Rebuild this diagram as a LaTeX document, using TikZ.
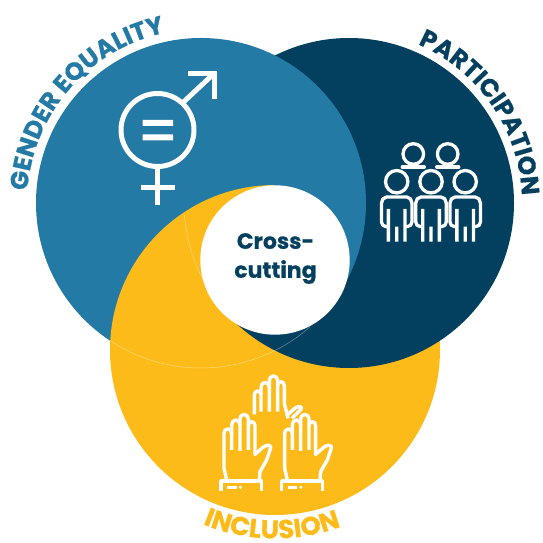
\documentclass[tikz,border=0pt]{standalone}
\usepackage{fontspec}
\setmainfont{Poppins}
\newfontfamily\labfont{Poppins}[UprightFont=* Bold,FakeBold=0.5]
\usetikzlibrary{decorations.text}
\definecolor{gblue}{HTML}{237AA5}
\definecolor{gnavy}{HTML}{03405F}
\definecolor{gyellow}{HTML}{FDBB1A}
\tikzset{
  whiteicon/.style={draw=white,line width=#1,fill=none,line join=round},
  whiteicon/.default=3.4,
  faint/.style={draw=white,draw opacity=.4,line width=.5},
  arctext/.style n args={3}{decorate,decoration={text along path,text align=center,
    text={|\fontsize{#2}{#2}\labfont\color{#1}|#3}}},
}
\def\bluec{(201,340) circle (165)}
\def\navyc{(349,340) circle (165)}
\def\yellc{(275,193) circle (165)}
\begin{document}
\begin{tikzpicture}[x=1pt,y=1pt]
\useasboundingbox (0,0) rectangle (543,543);
% discs
\fill[gblue] \bluec;
\fill[gyellow] \yellc;
% navy: everything right of the centre, and the part under the white disc
\begin{scope}
  \clip (275,0) rectangle (543,543) (200,0) rectangle (275.5,243);
  \fill[gnavy] \navyc;
\end{scope}
% blue over navy in the right-hand sliver and the top lens
\begin{scope}
  \clip (274.5,243) rectangle (543,543);
  \fill[gblue] \bluec;
\end{scope}
% faint seams
\draw[faint] (201,340) ++(236.4:165) arc[start angle=236.4,end angle=311.5,radius=165];
\draw[faint] (349,340) ++(184.2:165) arc[start angle=184.2,end angle=207.8,radius=165];
% centre
\fill[white] (275,283) circle (74.7);
\node[font=\fontsize{22}{29}\labfont,text=gnavy,align=center,inner sep=0] (centre) at (275.5,284.5) {Cross-\\cutting};
% curved labels
\path[arctext={gblue}{25}{GENDER EQUALITY}] (201,340) ++(179:174) arc[start angle=179,end angle=99,radius=174];
\path[arctext={gnavy}{25}{PARTICIPATION}] (349,340) ++(69.5:173) arc[start angle=69.5,end angle=-0.5,radius=173];
\path[arctext={gyellow}{26}{INCLUSION}] (275,193) ++(239:188.5) arc[start angle=239,end angle=299,radius=188.5];
% gender icon (pixel coordinates, y down)
\begin{scope}[shift={(0,543)},y=-1pt]
  \draw[whiteicon=5] (157.5,130) circle (36.5);
  \fill[white] (142.5,120) rectangle (173,126) (142.5,134.5) rectangle (173,140.5);
  \draw[whiteicon=5] (157.7,167) -- (157.7,205);
  \draw[whiteicon=5] (140.7,188) -- (174.7,188);
  \draw[whiteicon=5] (183.5,102) -- (214,73.5);
  \draw[whiteicon=5,line join=miter] (188,73.5) -- (214.3,73.5) -- (214.3,99);
  % people
  \foreach \hx in {413.3,447.7}{
    \draw[whiteicon=3.3] (\hx,154) circle (10.3);
    \draw[whiteicon=3.3,line cap=round] (\hx-11,167) -- (\hx+11,167);
  }
  \foreach \bx in {396.7,431,465.2}{
    \draw[whiteicon=3.3] (\bx,181.7) circle (11.2);
    \draw[whiteicon=3.3] (\bx-9.5,226.5) -- (\bx-11,226.5) to[out=180,in=-90] (\bx-15.2,222) -- (\bx-15.2,203)
        to[out=90,in=180] (\bx-10,197) -- (\bx+10,197) to[out=0,in=90] (\bx+15.2,203) -- (\bx+15.2,222)
        to[out=-90,in=0] (\bx+11,226.5) -- (\bx+9.5,226.5);
    \fill[white] (\bx-10,209) rectangle (\bx-6.6,241.7)
                 (\bx-1.7,226.7) rectangle (\bx+1.7,241.7)
                 (\bx+6.6,209) rectangle (\bx+10,241.7);
  }
\end{scope}
% hands (zoomed coordinates: 3 units per pixel, origin at 210,365 from top)
\begin{scope}[shift={(210,178)},x=.3333pt,y=-.3333pt]
  \foreach \ox in {0,182}{
    \begin{scope}[xshift=\ox*.3333pt]
      \draw[whiteicon] (50,345) -- (42,310) -- (42,205) to[out=90,in=180] (53,192) to[out=0,in=90] (65,205) -- (65,255);
      \draw[whiteicon] (65,205) -- (65,180) to[out=90,in=180] (77,165) to[out=0,in=90] (90,180) -- (90,258);
      \draw[whiteicon] (90,180) -- (90,162) to[out=90,in=180] (102,148) to[out=0,in=90] (115,162) -- (115,255);
      \draw[whiteicon] (115,182) to[out=90,in=180] (125,170) to[out=0,in=90] (135,182) -- (135,268) -- (158,248) .. controls (168,238) and (188,238) .. (181,252) -- (170,285) -- (150,320) -- (148,345);
      \draw[whiteicon] (33,378) -- (33,348) -- (155,348) -- (155,378);
      \draw[whiteicon] (52,367) -- (80,367);
      \fill[white] (91,367) circle (5);
    \end{scope}
  }
  \draw[whiteicon] (133,148) -- (133,90) to[out=90,in=180] (143,78) to[out=0,in=90] (153,90) -- (153,140);
  \draw[whiteicon] (153,90) -- (153,68) to[out=90,in=180] (165,52) to[out=0,in=90] (178,68) -- (178,140);
  \draw[whiteicon] (178,68) -- (178,46) to[out=90,in=180] (190,33) to[out=0,in=90] (203,46) -- (203,140);
  \draw[whiteicon] (203,62) to[out=90,in=180] (213,50) to[out=0,in=90] (223,62) -- (223,115) -- (234,160);
  \draw[whiteicon] (234,148) -- (254,130) .. controls (264,122) and (282,124) .. (272,134) -- (246,160);
\end{scope}
\end{tikzpicture}
\end{document}
